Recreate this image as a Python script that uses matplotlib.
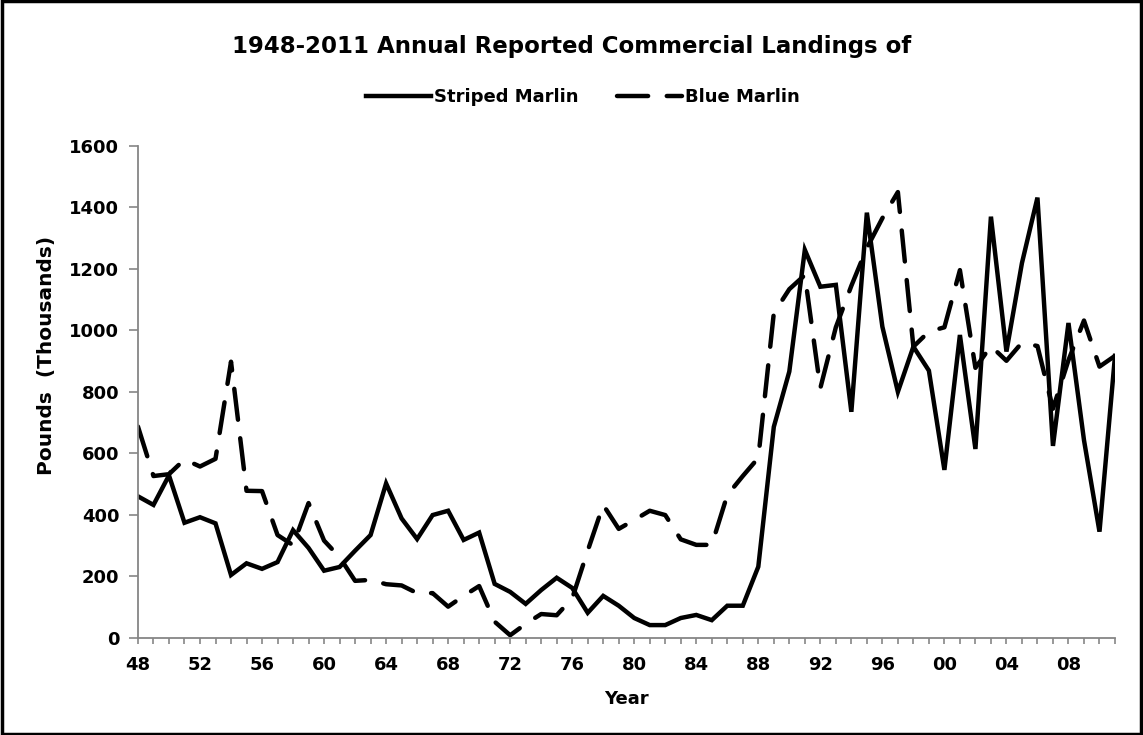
import matplotlib
matplotlib.use("Agg")
import matplotlib.pyplot as plt
from matplotlib.ticker import MultipleLocator, FuncFormatter
from matplotlib.patches import Rectangle

# Annual landings, thousands of pounds, 1948-2011
years = list(range(1948, 2012))
striped = [460, 432, 528, 374, 392, 372, 204, 242, 224, 246,
           350, 292, 218, 230, 283, 334, 502, 388, 321, 399,
           413, 318, 342, 175, 149, 110, 155, 195, 162, 81,
           136, 104, 64, 41, 41, 64, 74, 57, 104, 104,
           231, 686, 866, 1262, 1142, 1148, 735, 1383, 1012, 800,
           947, 869, 546, 985, 614, 1370, 931, 1219, 1432, 624,
           1024, 643, 345, 917]
blue = [687, 526, 532, 580, 557, 582, 898, 478, 477, 334,
        301, 438, 316, 262, 185, 188, 174, 170, 145, 145,
        101, 136, 168, 52, 8, 45, 77, 73, 128, 283,
        432, 354, 383, 413, 399, 320, 302, 302, 464, 526,
        585, 1056, 1134, 1180, 812, 1010, 1145, 1268, 1365, 1450,
        947, 996, 1010, 1196, 878, 949, 901, 960, 949, 745,
        903, 1032, 882, 917]

title = "1948-2011 Annual Reported Commercial Landings of"
axis_gray = "#868686"

fig = plt.figure(figsize=(11.43, 7.35), dpi=100)
ax = fig.add_axes([0.1207, 0.1324, 0.8548, 0.669])

ax.plot(years, striped, color="black", lw=3.2, solid_joinstyle="miter",
        label="Striped Marlin")
ax.plot(years, blue, color="black", lw=3.2, dashes=(7, 4.2),
        dash_capstyle="round", label="Blue Marlin")

ax.set_xlim(1948, 2011)
ax.set_ylim(0, 1600)
ax.yaxis.set_major_locator(MultipleLocator(200))
ax.xaxis.set_major_locator(MultipleLocator(4))
ax.xaxis.set_minor_locator(MultipleLocator(1))
ax.xaxis.set_major_formatter(FuncFormatter(lambda v, p: "%02d" % (int(v) % 100)))

for side in ["top", "right"]:
    ax.spines[side].set_visible(False)
for side in ["left", "bottom"]:
    ax.spines[side].set_color(axis_gray)
    ax.spines[side].set_linewidth(1.3)

ax.tick_params(axis="y", direction="out", length=6.5, width=1.2,
               color=axis_gray, pad=7, labelsize=13)
ax.tick_params(axis="x", which="both", direction="out", length=4, width=1.2,
               color=axis_gray, pad=9, labelsize=13)
for lab in ax.get_xticklabels() + ax.get_yticklabels():
    lab.set_fontweight("bold")

ax.set_xlabel("Year", fontsize=13, fontweight="bold", labelpad=12)
ax.set_ylabel("Pounds  (Thousands)", fontsize=14.5, fontweight="bold")
ax.yaxis.set_label_coords(-0.084, 0.573)  # sits a bit above the axis middle

fig.text(0.5, 1 - 46 / 735, title, ha="center", va="center",
         fontsize=16.5, fontweight="bold")

fig.legend(loc="center", bbox_to_anchor=(0.51, 1 - 97 / 735), ncol=2,
           frameon=False, handlelength=3.6, handletextpad=0.2,
           columnspacing=2.1, prop={"size": 13, "weight": "bold"})

# black frame round the whole chart
fig.patches.append(Rectangle((0.0015, 0.002), 0.997, 0.996, transform=fig.transFigure,
                             fill=False, lw=2.5, ec="black"))

fig.savefig("out.png", dpi=100)
